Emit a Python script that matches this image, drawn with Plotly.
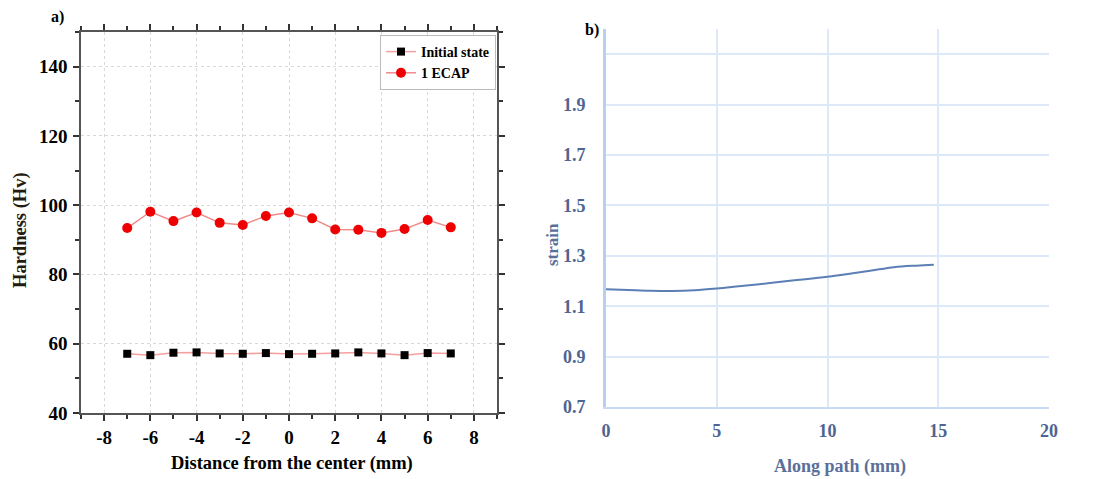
import plotly.graph_objects as go

# ---- Panel a) data ----
dist_mm = [-7, -6, -5, -4, -3, -2, -1, 0, 1, 2, 3, 4, 5, 6, 7]
initial_state = [57.1, 56.7, 57.4, 57.5, 57.2, 57.1, 57.3, 57.0, 57.1, 57.2, 57.5, 57.2, 56.7, 57.3, 57.2]
ecap_1 = [93.4, 98.1, 95.4, 97.9, 94.9, 94.3, 96.9, 97.9, 96.2, 93.0, 92.9, 92.0, 93.1, 95.7, 93.6]
a_xticks = [-8, -6, -4, -2, 0, 2, 4, 6, 8]
a_xticklabels = ["-8", "-6", "-4", "-2", "0", "2", "4", "6", "8"]
a_yticks = [40, 60, 80, 100, 120, 140]

# ---- Panel b) data ----
path_mm = [0, 1, 2, 3, 4, 5, 6, 7, 8, 9, 10, 11, 12, 13, 14, 14.8]
strain = [1.167, 1.164, 1.161, 1.160, 1.163, 1.170, 1.179, 1.188, 1.198, 1.207,
          1.217, 1.229, 1.242, 1.255, 1.261, 1.264]
b_xticks = [0, 5, 10, 15, 20]
b_yticks = [0.7, 0.9, 1.1, 1.3, 1.5, 1.7, 1.9, 2.1]
b_yticklabels = ["0.7", "0.9", "1.1", "1.3", "1.5", "1.7", "1.9", ""]

W, H = 1107, 479
SERIF = "Liberation Serif, Times New Roman, serif"
SLATE = "#4f6490"

def px(x):
    return x / W

def py(y):
    return 1 - y / H

fig = go.Figure()

fig.add_trace(go.Scatter(
    x=dist_mm, y=initial_state, name="Initial state", mode="lines+markers",
    line=dict(color="#f4a0a0", width=1.5),
    marker=dict(symbol="square", color="black", size=8),
    xaxis="x", yaxis="y"))
fig.add_trace(go.Scatter(
    x=dist_mm, y=ecap_1, name="1 ECAP", mode="lines+markers",
    line=dict(color="#f08a8a", width=1.5),
    marker=dict(symbol="circle", color="#ee0000", size=10),
    xaxis="x", yaxis="y"))

fig.add_trace(go.Scatter(
    x=path_mm, y=strain, mode="lines", showlegend=False,
    line=dict(color="#5b7fb5", width=2, shape="spline"),
    xaxis="x2", yaxis="y2"))

fig.update_layout(
    width=W, height=H,
    margin=dict(l=0, r=0, t=0, b=0, autoexpand=False),
    paper_bgcolor="white", plot_bgcolor="white",
    font=dict(family=SERIF, color="black"),
    xaxis=dict(
        domain=[px(81), px(497)], range=[-9, 9], anchor="y", automargin=False,
        tickvals=a_xticks, ticktext=a_xticklabels,
        ticks="outside", ticklen=6, tickwidth=1.5, tickcolor="#333",
        minor=dict(dtick=1, tick0=1, ticks="outside", ticklen=4, tickcolor="#333", showgrid=False),
        showline=True, linecolor="#555", linewidth=1.5, mirror="allticks",
        showgrid=True, gridcolor="#d8d8d8", griddash="dot", gridwidth=1,
        zeroline=False,
        tickfont=dict(family=SERIF, size=19, color="black", weight="bold"),
        ticklabelstandoff=0),
    yaxis=dict(
        domain=[py(413), py(32)], range=[40, 150], anchor="x", automargin=False,
        tickvals=a_yticks, ticks="outside", ticklen=6, tickwidth=1.5, tickcolor="#333",
        minor=dict(dtick=10, tick0=50, ticks="outside", ticklen=4, tickcolor="#333", showgrid=False),
        showline=True, linecolor="#555", linewidth=1.5, mirror="allticks",
        showgrid=True, gridcolor="#d8d8d8", griddash="dot", gridwidth=1,
        zeroline=False,
        tickfont=dict(family=SERIF, size=19, color="black", weight="bold"),
        ticklabelstandoff=2),
    xaxis2=dict(
        domain=[px(606), px(1049)], range=[0, 20], anchor="y2", automargin=False,
        tickvals=b_xticks, ticks="", showline=True, linecolor="#c9dbf2", linewidth=2,
        showgrid=True, gridcolor="#dde9f8", gridwidth=2, zeroline=False,
        tickfont=dict(family=SERIF, size=18, color=SLATE, weight="bold"),
        ticklabelstandoff=6),
    yaxis2=dict(
        domain=[py(407), py(29)], range=[0.7, 2.2], anchor="x2", automargin=False,
        tickvals=b_yticks, ticktext=b_yticklabels, ticks="",
        showline=True, linecolor="#b8d0ef", linewidth=3,
        showgrid=True, gridcolor="#dde9f8", gridwidth=2, zeroline=False,
        tickfont=dict(family=SERIF, size=18, color=SLATE, weight="bold"),
        ticklabelstandoff=14),
    legend=dict(
        x=px(380), y=py(35), xanchor="left", yanchor="top",
        bgcolor="white", bordercolor="#bbbbbb", borderwidth=1,
        font=dict(family=SERIF, size=14, color="black", weight="bold"),
        tracegroupgap=2, itemwidth=30),
    annotations=[
        dict(text="a)", x=px(57), y=py(17), xref="paper", yref="paper", showarrow=False,
             xanchor="center", yanchor="middle",
             font=dict(family=SERIF, size=16, color="black", weight="bold")),
        dict(text="Hardness (Hv)", x=px(21), y=py(230), xref="paper", yref="paper",
             showarrow=False, textangle=-90, xanchor="center", yanchor="middle",
             font=dict(family=SERIF, size=18.5, color="#231a10", weight="bold")),
        dict(text="Distance from the center (mm)", x=px(292), y=py(463), xref="paper",
             yref="paper", showarrow=False, xanchor="center", yanchor="middle",
             font=dict(family=SERIF, size=18.5, color="black", weight="bold")),
        dict(text="b)", x=px(592), y=py(30), xref="paper", yref="paper", showarrow=False,
             xanchor="center", yanchor="middle",
             font=dict(family=SERIF, size=16, color="black", weight="bold")),
        dict(text="strain", x=px(552), y=py(245), xref="paper", yref="paper",
             showarrow=False, textangle=-90, xanchor="center", yanchor="middle",
             font=dict(family=SERIF, size=17, color="#5a6f9a", weight="bold")),
        dict(text="Along path (mm)", x=px(840), y=py(466), xref="paper", yref="paper",
             showarrow=False, xanchor="center", yanchor="middle",
             font=dict(family=SERIF, size=18, color="#5a6f9a", weight="bold")),
    ],
)

fig.write_html(
    "out.html",
    config={"displayModeBar": False},
    post_script="document.body.style.margin='0';document.body.style.overflow='hidden';",
)
